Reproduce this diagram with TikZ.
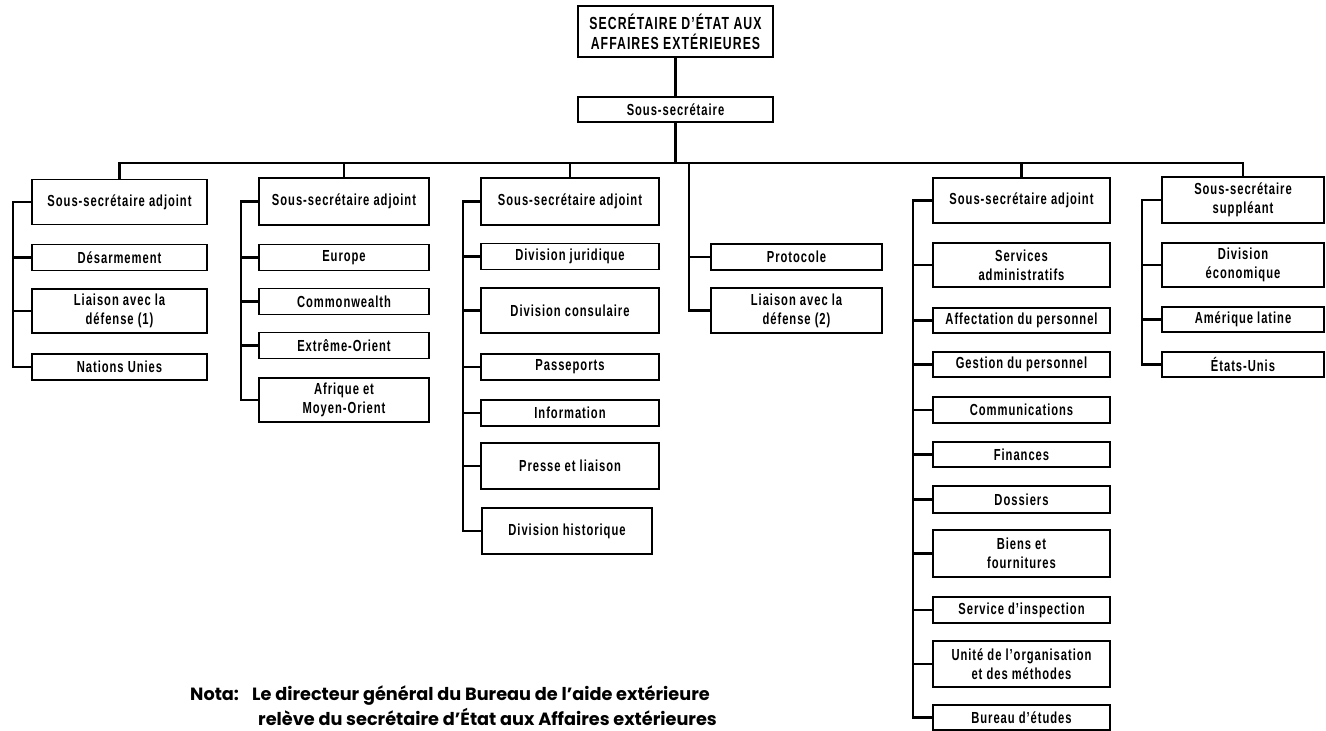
\documentclass[tikz,border=0pt]{standalone}
\usepackage{fontspec}
\setmainfont{Liberation Sans}
\newfontfamily\boxfont{Liberation Sans}[FakeStretch=0.7, LetterSpace=6]
\newfontfamily\notefont{Poppins}

\begin{document}
\begin{tikzpicture}[x=1pt, y=-1pt,
  box/.style={draw, line width=1.3pt, inner sep=0pt, outer sep=0pt, align=center,
              font=\boxfont\bfseries\fontsize{16}{19}\selectfont},
  topbox/.style={box, font=\boxfont\bfseries\fontsize{17.5}{20}\selectfont},
  colA/.style={box, minimum width=175pt},
  colB/.style={box, minimum width=170pt},
  colC/.style={box, minimum width=178pt},
  colD/.style={box, minimum width=171pt},
  colE/.style={box, minimum width=177pt},
  colF/.style={box, minimum width=162pt},
  one/.style={minimum height=26pt},
  two/.style={minimum height=45pt},
  link/.style={line width=2.4pt},
  note/.style={inner sep=0pt, font=\notefont\bfseries\fontsize{17.7}{22}\selectfont}]

\useasboundingbox (0,0) rectangle (1326,731);
\clip (0,0) rectangle (1326,731);

% head of the department
\node[topbox, minimum width=195pt, minimum height=51pt] (top) at (675.5,31.5)
  {SECRÉTAIRE D’ÉTAT AUX\\AFFAIRES EXTÉRIEURES};
\node[box, minimum width=195pt, minimum height=25pt] (ss) at (675.5,109.5) {Sous-secrétaire};

% column A
\node[colA, two] (a1) at (119.5,202) {Sous-secrétaire adjoint};
\node[colA, one] (a2) at (119.5,257.5) {Désarmement};
\node[colA, minimum height=44pt] (a3) at (119.5,311) {Liaison avec la\\défense (1)};
\node[colA, one] (a4) at (119.5,367) {Nations Unies};

% column B
\node[colB, minimum height=47pt] (b1) at (344,201.5) {Sous-secrétaire adjoint};
\node[colB, one] (b2) at (344,257.5) {Europe};
\node[colB, one] (b3) at (344,301.5) {Commonwealth};
\node[colB, one] (b4) at (344,345.5) {Extrême-Orient};
\node[colB, minimum height=44pt] (b5) at (344,400) {Afrique et\\Moyen-Orient};

% column C
\node[colC, minimum height=47pt] (c1) at (570,201.5) {Sous-secrétaire adjoint};
\node[colC, one] (c2) at (570,256.5) {Division juridique};
\node[colC, two] (c3) at (570,310.5) {Division consulaire};
\node[colC, one] (c4) at (570,367) {Passeports};
\node[colC, one] (c5) at (570,413) {Information};
\node[colC, minimum height=46pt] (c6) at (570,466) {Presse et liaison};
\node[box, minimum width=170pt, minimum height=46pt] (c7) at (567,531) {Division historique};

% column D
\node[colD, one] (d1) at (796.5,257) {Protocole};
\node[colD, two] (d2) at (796.5,310.5) {Liaison avec la\\défense (2)};

% column E
\node[colE, two] (e1) at (1021.5,200.5) {Sous-secrétaire adjoint};
\node[colE, minimum height=44pt] (e2) at (1021.5,265) {Services\\administratifs};
\node[colE, minimum height=25pt] (e3) at (1021.5,320.5) {Affectation du personnel};
\node[colE, minimum height=25pt] (e4) at (1021.5,364.5) {Gestion du personnel};
\node[colE, one] (e5) at (1021.5,410) {Communications};
\node[colE, minimum height=25pt] (e6) at (1021.5,454.5) {Finances};
\node[colE, minimum height=27pt] (e7) at (1021.5,499.5) {Dossiers};
\node[colE, minimum height=47pt] (e8) at (1021.5,553.5) {Biens et\\fournitures};
\node[colE, one] (e9) at (1021.5,610) {Service d’inspection};
\node[colE, minimum height=46pt] (e10) at (1021.5,664) {Unité de l’organisation\\et des méthodes};
\node[colE, minimum height=25pt] (e11) at (1021.5,717.5) {Bureau d’études};

% column F
\node[colF, minimum height=46pt] (f1) at (1243,200) {Sous-secrétaire\\suppléant};
\node[colF, minimum height=44pt] (f2) at (1243,265) {Division\\économique};
\node[colF, minimum height=25pt] (f3) at (1243,319.5) {Amérique latine};
\node[colF, minimum height=25pt] (f4) at (1243,364.5) {États-Unis};

% main links
\coordinate (bus) at (0,163);
\draw[link] (top.south) -- (ss.north);
\draw[link] (ss.south) -- (ss.south |- bus);
\draw[link] (a1.north) -- (bus -| a1.north) -- (bus -| f1.north) -- (f1.north);
\foreach \n in {b1,c1,e1}
  \draw[link] (bus -| \n.north) -- (\n.north);

% trunks down the left side of each column
\coordinate (trA) at (13,0);
\coordinate (trB) at (241,0);
\coordinate (trC) at (463,0);
\coordinate (trD) at (689,0);
\coordinate (trE) at (913,0);
\coordinate (trF) at (1142,0);

\draw[link] (a1.west) -- (a1.west -| trA) -- (trA |- a4.west) -- (a4.west);
\foreach \n in {a2,a3} \draw[link] (trA |- \n.west) -- (\n.west);

\draw[link] (b1.west) -- (b1.west -| trB) -- (trB |- b5.west) -- (b5.west);
\foreach \n in {b2,b3,b4} \draw[link] (trB |- \n.west) -- (\n.west);

\draw[link] (c1.west) -- (c1.west -| trC) -- (trC |- c7.west) -- (c7.west);
\foreach \n in {c2,c3,c4,c5,c6} \draw[link] (trC |- \n.west) -- (\n.west);

\draw[link] (bus -| trD) -- (trD |- d2.west) -- (d2.west);
\draw[link] (trD |- d1.west) -- (d1.west);

\draw[link] (e1.west) -- (e1.west -| trE) -- (trE |- e11.west) -- (e11.west);
\foreach \n in {e2,e3,e4,e5,e6,e7,e8,e9,e10} \draw[link] (trE |- \n.west) -- (\n.west);

\draw[link] (f1.west) -- (f1.west -| trF) -- (trF |- f4.west) -- (f4.west);
\foreach \n in {f2,f3} \draw[link] (trF |- \n.west) -- (\n.west);

% footnote
\node[note, anchor=base west] (nota) at (190,700) {Nota:};
\node[note, anchor=base west] (n1) at (252,700) {Le directeur général du Bureau de l’aide extérieure};
\node[note, anchor=base west] (n2) at (258,725) {relève du secrétaire d’État aux Affaires extérieures};
\end{tikzpicture}
\end{document}
